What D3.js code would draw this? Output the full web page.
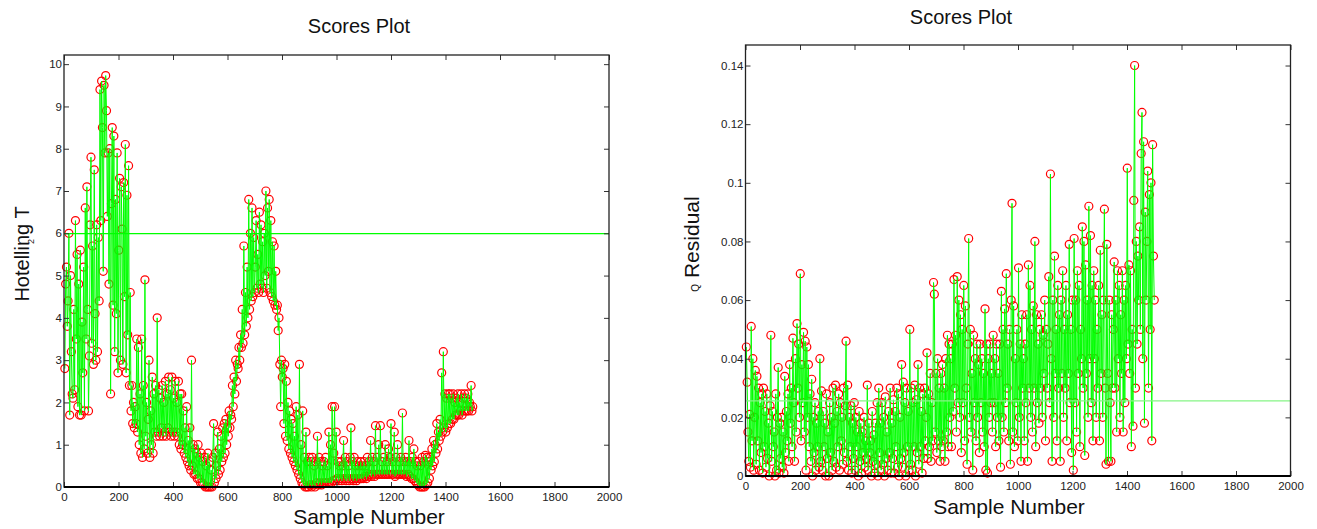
<!DOCTYPE html>
<html>
<head>
<meta charset="utf-8">
<script src="https://cdn.jsdelivr.net/npm/d3@7"></script>
<style>
  body { margin: 0; background: #fff; }
  svg { display: block; font-family: "Liberation Sans", Arial, sans-serif; }
</style>
</head>
<body>
<svg id="chart" width="1317" height="529"></svg>
<script>
// one value every 3 samples
const sampleStep = 3;

const hotellingT2 = [
  2.8, 4.8, 5.2, 3.8, 4.4, 6.0, 1.7, 5.0, 3.2, 2.2,
  2.1, 4.2, 2.3, 6.3, 3.5, 5.5, 1.9, 4.8, 1.7, 5.6,
  1.7, 3.9, 2.7, 5.2, 1.8, 6.6, 3.5, 7.1, 4.2, 1.8,
  3.1, 6.2, 7.8, 3.4, 5.7, 2.9, 7.5, 4.1, 3.0, 6.2,
  3.2, 5.9, 4.4, 9.4, 6.3, 9.6, 8.5, 5.1, 9.5, 7.9,
  9.73, 8.9, 6.4, 7.9, 4.8, 8.0, 2.2, 6.7, 8.5, 4.3,
  8.3, 3.2, 6.8, 4.1, 7.9, 2.7, 5.6, 7.3, 3.0, 7.1,
  6.1, 2.9, 7.2, 4.5, 8.1, 2.7, 6.9, 3.6, 7.6, 2.4,
  4.6, 1.8, 2.4, 1.5, 2.0, 1.4, 1.9, 1.5, 3.5, 1.3,
  3.3, 1.0, 2.2, 0.8, 3.5, 0.7, 2.4, 0.9, 4.9, 1.2,
  2.0, 0.8, 1.6, 3.0, 0.7, 1.8, 1.0, 2.6, 0.8, 2.2,
  1.3, 2.4, 1.2, 4.0, 1.3, 2.3, 1.2, 2.1, 1.4, 2.4,
  1.2, 2.0, 1.3, 2.5, 1.2, 2.2, 1.4, 2.6, 1.3, 2.3,
  1.2, 2.6, 1.3, 2.1, 1.2, 2.5, 1.3, 2.0, 1.2, 2.5,
  1.0, 2.2, 0.9, 2.2, 1.0, 1.8, 0.8, 1.4, 0.7, 1.9,
  0.6, 1.1, 0.5, 1.4, 0.4, 3.0, 0.5, 1.0, 0.3, 0.9,
  0.3, 0.8, 0.2, 1.0, 0.2, 0.7, 0.1, 0.8, 0.1, 0.6,
  0.05, 0.7, 0.0, 0.5, 0.0, 0.8, 0.0, 0.6, 0.0, 0.4,
  0.0, 0.7, 1.5, 0.1, 0.8, 0.2, 0.5, 1.3, 0.3, 0.9,
  0.4, 1.2, 0.6, 1.4, 0.7, 1.5, 0.8, 1.6, 1.0, 1.4,
  1.2, 1.8, 1.4, 1.7, 1.6, 2.4, 1.9, 2.6, 2.2, 3.0,
  2.5, 2.9, 2.8, 3.3, 3.0, 3.6, 3.3, 4.2, 3.4, 5.7,
  3.6, 4.6, 3.8, 5.2, 4.0, 6.8, 4.2, 6.0, 4.4, 6.6,
  4.5, 5.9, 4.6, 5.2, 6.3, 4.7, 5.5, 4.6, 6.5, 4.8,
  6.2, 4.7, 5.8, 4.6, 6.0, 5.0, 7.0, 4.7, 6.6, 5.1,
  6.8, 4.6, 6.3, 4.5, 5.8, 4.4, 5.7, 4.3, 5.1, 4.2,
  4.3, 3.7, 4.0, 2.9, 1.9, 3.0, 2.6, 2.8, 1.5, 2.9,
  1.2, 2.5, 1.1, 2.0, 0.9, 1.8, 0.8, 1.6, 0.7, 1.5,
  0.6, 1.2, 0.5, 1.9, 0.4, 1.7, 0.3, 2.9, 0.2, 1.0,
  0.1, 1.8, 0.05, 0.7, 0.0, 1.3, 0.0, 0.6, 0.0, 0.7,
  0.05, 0.6, 0.0, 0.7, 0.05, 0.5, 0.0, 0.6, 0.1, 1.2,
  0.05, 0.7, 0.1, 0.6, 0.05, 0.5, 0.1, 0.6, 0.1, 0.7,
  0.1, 0.5, 0.1, 1.3, 0.1, 1.0, 0.1, 1.9, 0.15, 0.8,
  1.9, 0.15, 1.3, 0.2, 0.6, 0.15, 0.5, 0.2, 0.6, 0.15,
  0.5, 1.1, 0.2, 0.7, 0.15, 0.6, 0.2, 0.5, 0.15, 0.7,
  1.4, 0.2, 0.6, 0.15, 0.7, 0.2, 0.5, 0.15, 0.6, 0.2,
  0.5, 0.2, 0.6, 0.2, 0.5, 0.2, 0.6, 0.25, 0.5, 0.2,
  0.7, 0.25, 0.6, 0.3, 1.1, 0.25, 0.7, 0.3, 0.6, 0.25,
  1.45, 0.3, 0.7, 0.3, 1.0, 0.3, 1.45, 0.3, 0.6, 0.3,
  0.7, 0.3, 1.0, 0.3, 0.6, 0.3, 0.9, 0.3, 0.7, 1.5,
  0.3, 0.6, 0.3, 1.3, 0.25, 0.7, 0.3, 1.0, 0.3, 0.6,
  0.3, 0.7, 0.3, 1.75, 0.3, 0.6, 0.3, 0.7, 0.25, 0.6,
  0.3, 1.1, 0.25, 0.6, 0.2, 0.7, 0.2, 0.9, 0.15, 0.6,
  0.1, 0.5, 0.05, 0.6, 0.0, 0.5, 0.0, 0.7, 0.0, 0.6,
  0.0, 0.75, 0.05, 0.7, 0.1, 0.6, 0.2, 0.7, 0.4, 0.9,
  0.5, 1.1, 0.6, 1.0, 0.8, 1.5, 0.9, 1.3, 1.1, 1.6,
  1.2, 2.7, 1.3, 3.2, 1.4, 2.2, 1.3, 2.1, 1.4, 2.2,
  1.5, 2.2, 1.5, 2.1, 1.6, 2.2, 1.6, 2.0, 1.7, 2.1,
  1.7, 2.2, 1.7, 2.0, 1.8, 2.2, 1.7, 2.1, 1.8, 2.2,
  1.8, 2.1, 1.8, 2.2, 1.8, 2.0, 1.9, 2.4, 1.8, 1.9
];

const qResidual = [
  0.044, 0.032, 0.015, 0.005, 0.021, 0.003, 0.051, 0.012, 0.040, 0.002,
  0.020, 0.036, 0.004, 0.034, 0.012, 0.030, 0.002, 0.025, 0.008, 0.028,
  0.001, 0.030, 0.010, 0.022, 0.003, 0.028, 0.006, 0.018, 0.000, 0.024,
  0.048, 0.005, 0.022, 0.010, 0.015, 0.000, 0.028, 0.002, 0.020, 0.037,
  0.001, 0.018, 0.006, 0.020, 0.003, 0.015, 0.001, 0.034, 0.008, 0.022,
  0.012, 0.028, 0.005, 0.038, 0.018, 0.030, 0.010, 0.047, 0.025, 0.005,
  0.040, 0.015, 0.052, 0.030, 0.045, 0.020, 0.069, 0.012, 0.038, 0.025,
  0.049, 0.015, 0.046, 0.002, 0.044, 0.020, 0.038, 0.010, 0.028, 0.005,
  0.033, 0.000, 0.020, 0.008, 0.025, 0.002, 0.018, 0.010, 0.022, 0.003,
  0.040, 0.005, 0.029, 0.002, 0.022, 0.010, 0.018, 0.000, 0.028, 0.006,
  0.015, 0.000, 0.025, 0.008, 0.020, 0.002, 0.030, 0.005, 0.018, 0.031,
  0.003, 0.022, 0.010, 0.028, 0.002, 0.025, 0.012, 0.020, 0.004, 0.030,
  0.008, 0.024, 0.046, 0.005, 0.031, 0.002, 0.020, 0.010, 0.024, 0.001,
  0.018, 0.006, 0.025, 0.002, 0.020, 0.010, 0.015, 0.000, 0.022, 0.005,
  0.018, 0.001, 0.015, 0.008, 0.020, 0.003, 0.012, 0.006, 0.031, 0.002,
  0.018, 0.008, 0.012, 0.000, 0.022, 0.005, 0.014, 0.001, 0.018, 0.004,
  0.025, 0.000, 0.030, 0.008, 0.018, 0.002, 0.025, 0.004, 0.020, 0.000,
  0.027, 0.006, 0.015, 0.002, 0.022, 0.008, 0.030, 0.001, 0.018, 0.006,
  0.026, 0.001, 0.022, 0.010, 0.030, 0.003, 0.028, 0.000, 0.020, 0.006,
  0.038, 0.003, 0.032, 0.008, 0.025, 0.000, 0.030, 0.010, 0.022, 0.002,
  0.050, 0.004, 0.030, 0.002, 0.025, 0.010, 0.031, 0.000, 0.026, 0.008,
  0.038, 0.004, 0.030, 0.010, 0.022, 0.001, 0.028, 0.006, 0.030, 0.012,
  0.020, 0.042, 0.006, 0.028, 0.010, 0.035, 0.005, 0.025, 0.012, 0.066,
  0.062, 0.015, 0.035, 0.008, 0.040, 0.012, 0.030, 0.005, 0.035, 0.010,
  0.038, 0.012, 0.030, 0.005, 0.040, 0.015, 0.048, 0.010, 0.045, 0.020,
  0.040, 0.010, 0.045, 0.022, 0.067, 0.030, 0.048, 0.015, 0.068, 0.025,
  0.060, 0.020, 0.055, 0.008, 0.050, 0.025, 0.065, 0.012, 0.058, 0.030,
  0.004, 0.045, 0.081, 0.020, 0.050, 0.015, 0.035, 0.002, 0.048, 0.025,
  0.040, 0.012, 0.045, 0.020, 0.038, 0.008, 0.045, 0.025, 0.040, 0.015,
  0.035, 0.010, 0.057, 0.002, 0.045, 0.001, 0.040, 0.020, 0.045, 0.025,
  0.035, 0.015, 0.048, 0.025, 0.040, 0.010, 0.045, 0.020, 0.035, 0.012,
  0.045, 0.003, 0.063, 0.020, 0.050, 0.015, 0.057, 0.025, 0.069, 0.030,
  0.045, 0.012, 0.050, 0.004, 0.060, 0.093, 0.015, 0.058, 0.010, 0.040,
  0.025, 0.050, 0.012, 0.071, 0.020, 0.045, 0.005, 0.055, 0.030, 0.040,
  0.012, 0.045, 0.025, 0.055, 0.005, 0.072, 0.030, 0.065, 0.020, 0.050,
  0.015, 0.058, 0.030, 0.080, 0.010, 0.055, 0.025, 0.045, 0.018, 0.050,
  0.030, 0.055, 0.020, 0.048, 0.035, 0.060, 0.012, 0.050, 0.030, 0.045,
  0.068, 0.025, 0.103, 0.040, 0.005, 0.060, 0.020, 0.075, 0.035, 0.050,
  0.012, 0.065, 0.030, 0.055, 0.005, 0.060, 0.035, 0.070, 0.020, 0.050,
  0.030, 0.065, 0.012, 0.055, 0.035, 0.079, 0.025, 0.050, 0.008, 0.060,
  0.002, 0.081, 0.025, 0.060, 0.015, 0.070, 0.035, 0.065, 0.010, 0.050,
  0.040, 0.085, 0.030, 0.080, 0.007, 0.072, 0.035, 0.060, 0.020, 0.092,
  0.040, 0.082, 0.025, 0.065, 0.012, 0.070, 0.040, 0.060, 0.020, 0.050,
  0.030, 0.065, 0.012, 0.077, 0.035, 0.055, 0.020, 0.060, 0.091, 0.030,
  0.004, 0.079, 0.035, 0.005, 0.060, 0.025, 0.005, 0.055, 0.030, 0.050,
  0.073, 0.030, 0.060, 0.015, 0.070, 0.040, 0.065, 0.020, 0.055, 0.035,
  0.070, 0.015, 0.060, 0.025, 0.065, 0.040, 0.105, 0.045, 0.072, 0.035,
  0.070, 0.010, 0.050, 0.017, 0.094, 0.140, 0.030, 0.080, 0.045, 0.075,
  0.060, 0.085, 0.050, 0.110, 0.124, 0.040, 0.114, 0.018, 0.090, 0.060,
  0.080, 0.104, 0.030, 0.096, 0.050, 0.100, 0.012, 0.113, 0.075, 0.060
];

const hotellingLimit = 5.99;
const qLimit = 0.0256;

const xTicks = [0, 200, 400, 600, 800, 1000, 1200, 1400, 1600, 1800, 2000];
const hotellingTicks = [0, 1, 2, 3, 4, 5, 6, 7, 8, 9, 10];
const qTicks = [0, 0.02, 0.04, 0.06, 0.08, 0.1, 0.12, 0.14];

const svg = d3.select("#chart");

const panels = [
  {
    values: hotellingT2, limit: hotellingLimit, yTicks: hotellingTicks,
    limitColor: "#00ff00",
    left: 64, right: 609, top: 55, bottom: 487,
    titleX: 359, titleY: 33, xLabelX: 369, xLabelY: 524,
    yLabelX: 29, yLabelY: 254, yLabel: "hotelling"
  },
  {
    values: qResidual, limit: qLimit, yTicks: qTicks,
    limitColor: "#86f586",
    left: 745.5, right: 1290.5, top: 45, bottom: 476,
    titleX: 961, titleY: 24, xLabelX: 1009, xLabelY: 514,
    yLabelX: 699, yLabelY: 244, yLabel: "q"
  }
];

panels.forEach(drawPanel);

function drawPanel(p) {
  const x = d3.scaleLinear().domain([0, 2000]).range([p.left, p.right]);
  const y = d3
    .scaleLinear()
    .domain([0, d3.max(p.values) * 1.05])
    .range([p.bottom, p.top]);

  const pts = p.values.map((v, i) => [(i + 1) * sampleStep, v]);
  const g = svg.append("g");

  // markers first, line on top (matlab draws 'ro' then 'g-')
  g.append("g")
    .selectAll("circle")
    .data(pts)
    .join("circle")
    .attr("cx", (d) => x(d[0]))
    .attr("cy", (d) => y(d[1]))
    .attr("r", 4)
    .style("fill", "none")
    .style("stroke", "#ff0000")
    .style("stroke-width", 1.2);

  const line = d3
    .line()
    .x((d) => x(d[0]))
    .y((d) => y(d[1]));

  g.append("path")
    .attr("d", line(pts))
    .style("fill", "none")
    .style("stroke", "#00ff00")
    .style("stroke-width", 1);

  g.append("line")
    .attr("x1", x(0))
    .attr("x2", x(2000))
    .attr("y1", y(p.limit))
    .attr("y2", y(p.limit))
    .style("stroke", p.limitColor)
    .style("stroke-width", 1.3);

  // axes, ticks pointing inward on all four sides
  const fmt = (d) => String(+d.toFixed(2));

  const bottomAxis = g
    .append("g")
    .attr("transform", `translate(0,${p.bottom})`)
    .call(
      d3.axisBottom(x).tickValues(xTicks).tickSizeInner(-5).tickSizeOuter(0).tickPadding(6).tickFormat(d3.format("d"))
    );
  const topAxis = g
    .append("g")
    .attr("transform", `translate(0,${p.top})`)
    .call(d3.axisTop(x).tickValues(xTicks).tickSizeInner(-5).tickSizeOuter(0).tickFormat(""));
  const leftAxis = g
    .append("g")
    .attr("transform", `translate(${p.left},0)`)
    .call(
      d3.axisLeft(y).tickValues(p.yTicks).tickSizeInner(-5).tickSizeOuter(0).tickPadding(2).tickFormat(fmt)
    );
  const rightAxis = g
    .append("g")
    .attr("transform", `translate(${p.right},0)`)
    .call(d3.axisRight(y).tickValues(p.yTicks).tickSizeInner(-5).tickSizeOuter(0).tickFormat(""));

  [bottomAxis, topAxis, leftAxis, rightAxis].forEach((a) => {
    a.select(".domain").remove();
    a.selectAll("line").style("stroke", "#333");
    a.selectAll("text")
      .style("font-family", '"Liberation Sans", Arial, sans-serif')
      .style("font-size", "11.5px")
      .style("fill", "#222");
  });

  g.append("rect")
    .attr("x", p.left)
    .attr("y", p.top)
    .attr("width", p.right - p.left)
    .attr("height", p.bottom - p.top)
    .style("fill", "none")
    .style("stroke", "#222")
    .style("stroke-width", 1.3);

  g.append("line")
    .attr("x1", p.left)
    .attr("x2", p.right)
    .attr("y1", p.bottom)
    .attr("y2", p.bottom)
    .style("stroke", "#000")
    .style("stroke-width", 2.2);

  svg
    .append("text")
    .attr("x", p.titleX)
    .attr("y", p.titleY)
    .attr("text-anchor", "middle")
    .style("font-size", "20px")
    .style("fill", "#111")
    .text("Scores Plot");

  svg
    .append("text")
    .attr("x", p.xLabelX)
    .attr("y", p.xLabelY)
    .attr("text-anchor", "middle")
    .style("font-size", "21px")
    .style("fill", "#111")
    .text("Sample Number");

  const yl = svg
    .append("text")
    .attr("transform", `translate(${p.yLabelX},${p.yLabelY}) rotate(-90)`)
    .attr("text-anchor", "middle")
    .style("fill", "#111");

  if (p.yLabel === "hotelling") {
    yl.append("tspan").style("font-size", "20px").text("Hotelling T");
    // the superscript 2 is misplaced in the original, it sits under the "g"
    svg
      .append("text")
      .attr("transform", `translate(${p.yLabelX + 5},${p.yLabelY - 10}) rotate(-90)`)
      .style("font-size", "9px")
      .style("fill", "#111")
      .text("2");
  } else {
    yl.append("tspan").style("font-size", "10px").text("Q");
    yl.append("tspan").style("font-size", "21px").text(" Residual");
  }
}
</script>
</body>
</html>
